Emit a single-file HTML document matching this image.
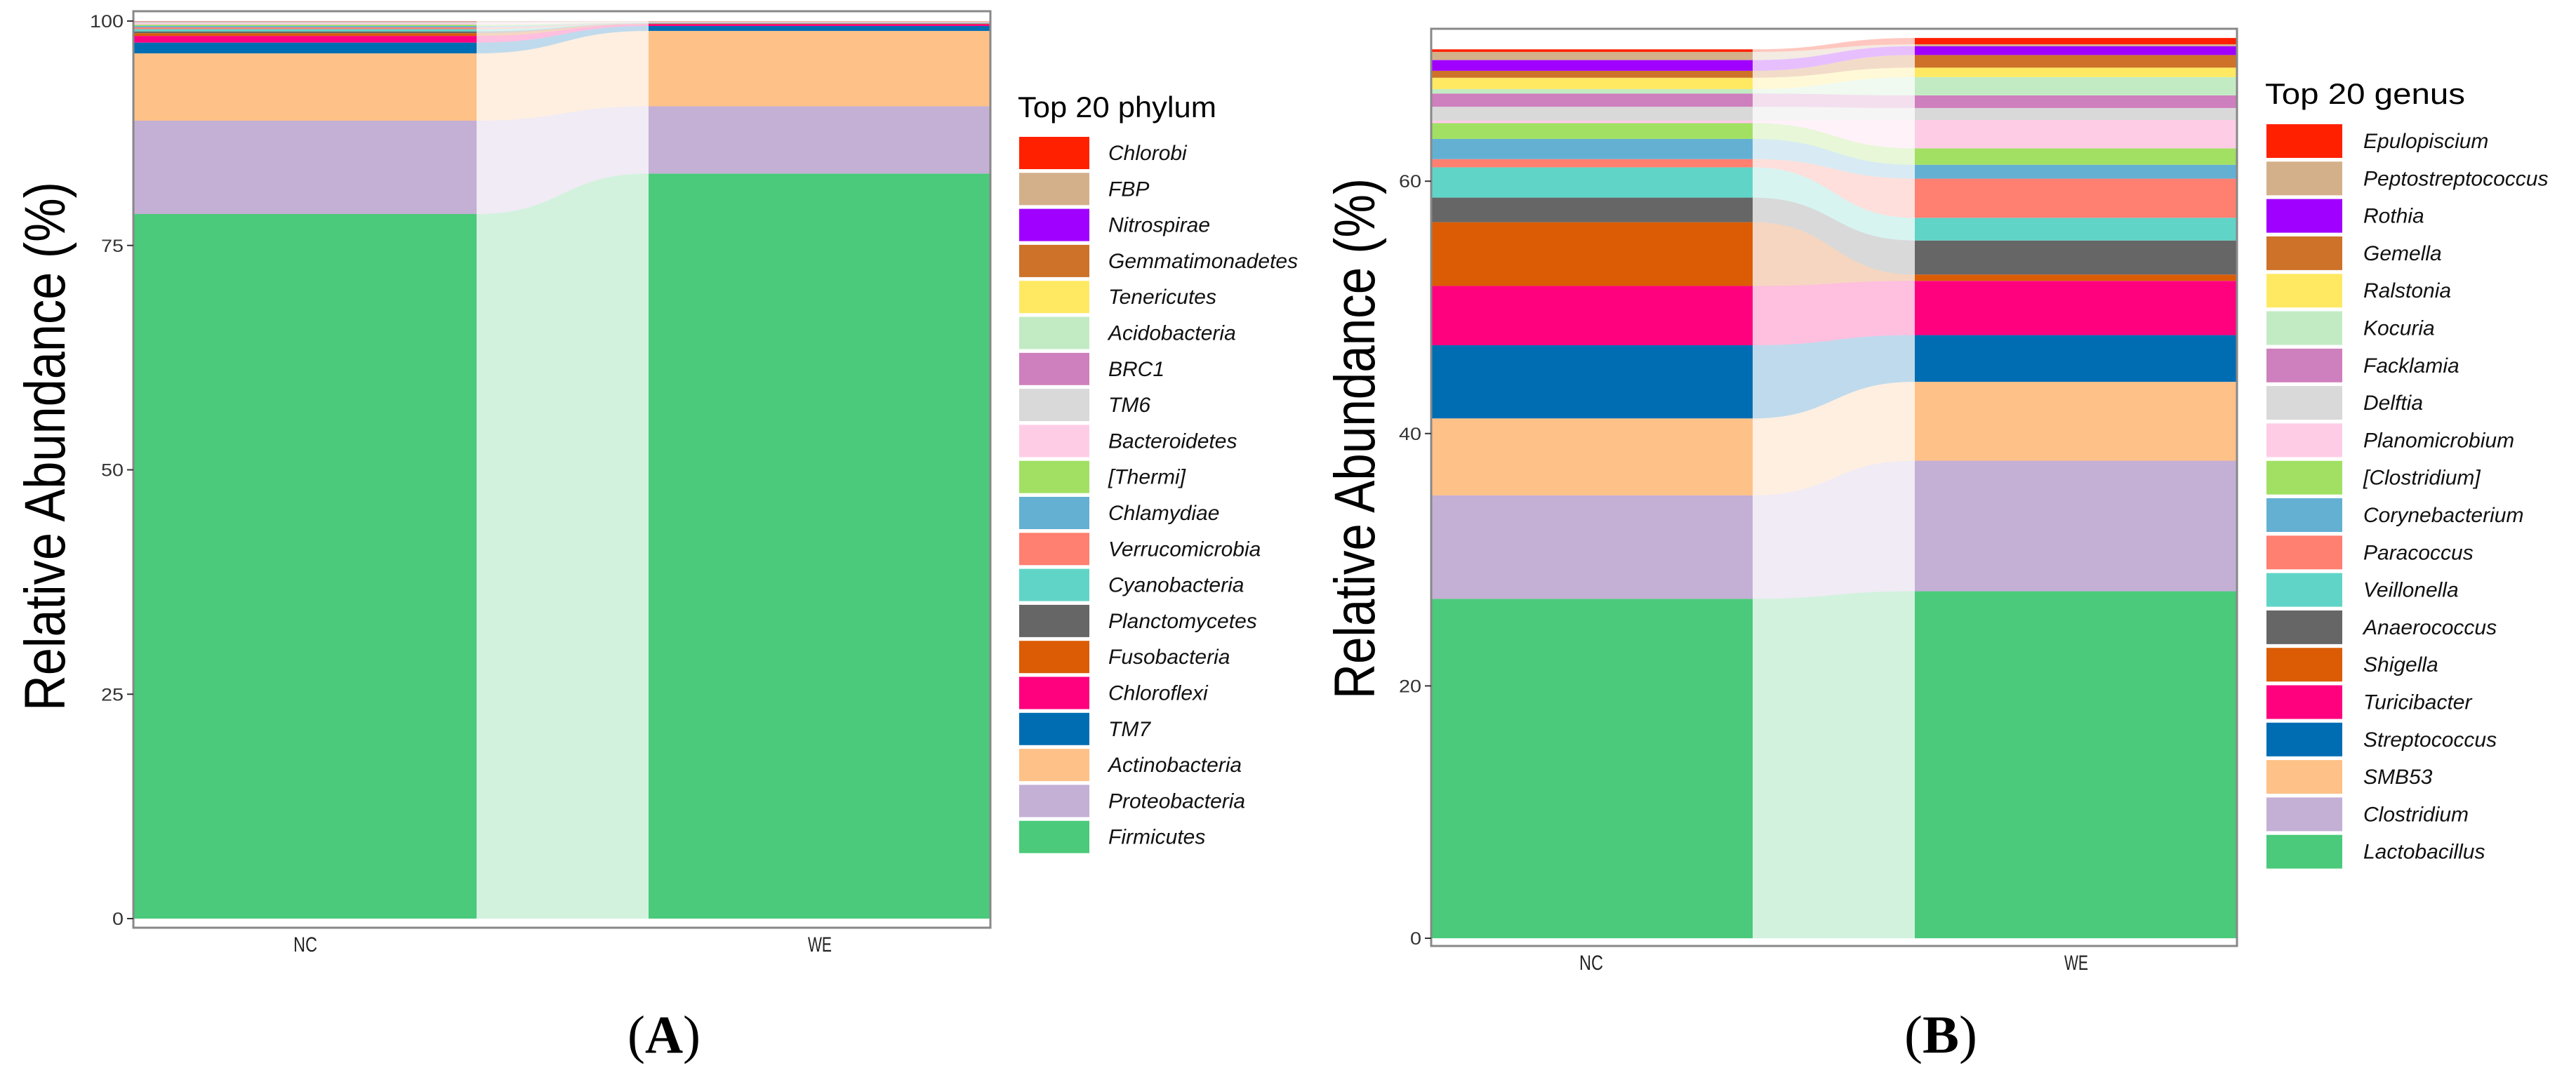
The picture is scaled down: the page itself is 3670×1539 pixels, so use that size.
<!DOCTYPE html>
<html><head><meta charset="utf-8"><style>
html,body{margin:0;padding:0;background:#fff}
svg{display:block}
text{font-family:"Liberation Sans",sans-serif}
</style></head><body>
<svg id="fig" xmlns="http://www.w3.org/2000/svg" width="3670" height="1539" viewBox="0 0 3670 1539">
<g id="pA"></g>
<g id="pB"></g>
</svg>
<script>
const samples = ["NC","WE"];
const phylumNames = ["Firmicutes","Proteobacteria","Actinobacteria","TM7","Chloroflexi","Fusobacteria","Planctomycetes","Cyanobacteria","Verrucomicrobia","Chlamydiae","[Thermi]","Bacteroidetes","TM6","BRC1","Acidobacteria","Tenericutes","Gemmatimonadetes","Nitrospirae","FBP","Chlorobi"];
const phylumNC = [78.5,10.4,7.5,1.2,0.75,0.3,0.2,0.25,0.2,0.15,0.15,0.15,0.07,0.05,0.04,0.03,0.02,0.02,0.01,0.01];
const phylumWE = [83.0,7.5,8.4,0.55,0.2,0.05,0.03,0.03,0.02,0.02,0.02,0.04,0.03,0.03,0.02,0.02,0.01,0.01,0.01,0.01];
const genusNames = ["Lactobacillus","Clostridium","SMB53","Streptococcus","Turicibacter","Shigella","Anaerococcus","Veillonella","Paracoccus","Corynebacterium","[Clostridium]","Planomicrobium","Delftia","Facklamia","Kocuria","Ralstonia","Gemella","Rothia","Peptostreptococcus","Epulopiscium"];
const genusNC = [26.9,8.2,6.1,5.8,4.7,5.05,1.95,2.4,0.65,1.6,1.25,0.2,1.1,1.05,0.35,0.9,0.55,0.85,0.65,0.2];
const genusWE = [27.5,10.35,6.25,3.7,4.3,0.5,2.7,1.8,3.1,1.1,1.3,2.25,0.95,1.0,1.45,0.75,1.0,0.7,0.15,0.5];
const ticksA = [0,25,50,75,100];
const ticksB = [0,20,40,60];
const palette = ["#4ACA7A","#C4AFD5","#FEC188","#006DB3","#FF007F","#DB5C04","#666666","#61D4C8","#FF7F71","#64B0D3","#A1E063","#FFCCE6","#D9D9D9","#CE7FBD","#C2EBC4","#FFE963","#CD7228","#A000FF","#D4B08A","#FF2000"];
const NS="http://www.w3.org/2000/svg";
function mk(parent,tag,attrs,txt){const e=document.createElementNS(NS,tag);for(const k in attrs)e.setAttribute(k,attrs[k]);if(txt!==undefined)e.textContent=txt;parent.appendChild(e);return e;}

function panel(g,cfg){
  const y=v=>cfg.y0-v*cfg.k;
  const fr=mk(g,'rect',{x:cfg.x0,y:cfg.top,width:cfg.x1-cfg.x0,height:cfg.bottom-cfg.top,fill:'#fff',stroke:'#888','stroke-width':3});
  
  
  let cNC=0,cWE=0;
  for(let i=0;i<cfg.names.length;i++){
    const a0=cNC,a1=cNC+cfg.nc[i],b0=cWE,b1=cWE+cfg.we[i];
    cNC=a1;cWE=b1;
    const col=palette[i];
    const r1=mk(g,'rect',{x:cfg.x0+1,y:y(a1),width:cfg.ncEnd-cfg.x0-1,height:y(a0)-y(a1),fill:col});
    
    
    const r2=mk(g,'rect',{x:cfg.weStart,y:y(b1),width:cfg.x1-cfg.weStart-1,height:y(b0)-y(b1),fill:col});
    
    
    const xa=cfg.ncEnd,xb=cfg.weStart,xm=(xa+xb)/2;
    const d=`M${xa},${y(a1)} C${xm},${y(a1)} ${xm},${y(b1)} ${xb},${y(b1)} L${xb},${y(b0)} C${xm},${y(b0)} ${xm},${y(a0)} ${xa},${y(a0)} Z`;
    const f=mk(g,'path',{d:d,fill:col,'fill-opacity':0.25});
    
    
  }
  mk(g,'rect',{x:cfg.x0,y:cfg.top,width:cfg.x1-cfg.x0,height:cfg.bottom-cfg.top,fill:'none',stroke:'#888','stroke-width':3});
  cfg.ticks.forEach(t=>{
    mk(g,'line',{x1:cfg.x0-9,x2:cfg.x0,y1:y(t),y2:y(t),stroke:'#333','stroke-width':2});
    const tl=mk(g,'text',{x:cfg.x0-14,y:y(t)+9,'text-anchor':'end','font-size':25,fill:'#333',textLength:String(t).length*16,lengthAdjust:'spacingAndGlyphs'},String(t));
    
    
  });
  samples.forEach((s,i)=>{
    const xl=mk(g,'text',{x:cfg.xl[i],y:cfg.bottom+34,'text-anchor':'middle','font-size':30,fill:'#222',textLength:34,lengthAdjust:'spacingAndGlyphs'},s);
    
    
  });
  const yt=mk(g,'text',{x:0,y:0,transform:`translate(${cfg.tx},${cfg.ty}) rotate(-90)`,'text-anchor':'middle','font-size':82,fill:'#000',textLength:cfg.tlen,lengthAdjust:'spacingAndGlyphs'},'Relative Abundance (%)');
  
  
  const lt=mk(g,'text',{x:cfg.lx,y:cfg.ltY,'font-size':42,fill:'#000',textLength:cfg.ltLen,lengthAdjust:'spacingAndGlyphs'},cfg.title);
  
  
  for(let j=0;j<cfg.names.length;j++){
    const i=cfg.names.length-1-j;
    const yy=cfg.lTop+j*cfg.pitch;
    const sw=mk(g,'rect',{x:cfg.lx+2,y:yy,width:cfg.sw,height:cfg.sh,fill:palette[i]});
    
    
    const tx=mk(g,'text',{x:cfg.ltx,y:yy+cfg.sh/2+10,'font-size':30,'font-style':'italic',fill:'#111'},cfg.names[i]);
    
    
  }
  const lab=mk(g,'text',{x:cfg.labX,y:1500,'text-anchor':'middle',style:'font-family:"Liberation Serif",serif;font-size:76px',fill:'#000',textLength:104,lengthAdjust:'spacingAndGlyphs'});
  
  
  mk(lab,'tspan',{},'(');mk(lab,'tspan',{'font-weight':'bold'},cfg.label);mk(lab,'tspan',{},')');
}
panel(document.getElementById('pA'),{x0:190,x1:1411,top:16,bottom:1322,y0:1309,k:12.79,ncEnd:679,weStart:924,
  names:phylumNames,nc:phylumNC,we:phylumWE,ticks:ticksA,xl:[435,1168],tx:92,ty:636,tlen:754,
  title:'Top 20 phylum',lx:1450,ltY:167,ltLen:283,lTop:195,pitch:51.3,sw:100,sh:46,ltx:1579,labX:946,label:'A'});
panel(document.getElementById('pB'),{x0:2039,x1:3187,top:41,bottom:1348,y0:1337,k:17.98,ncEnd:2497,weStart:2728,
  names:genusNames,nc:genusNC,we:genusWE,ticks:ticksB,xl:[2267,2958],tx:1958,ty:625,tlen:742,
  title:'Top 20 genus',lx:3227,ltY:148,ltLen:285,lTop:177,pitch:53.3,sw:108,sh:48,ltx:3367,labX:2765,label:'B'});
</script>
</body></html>
